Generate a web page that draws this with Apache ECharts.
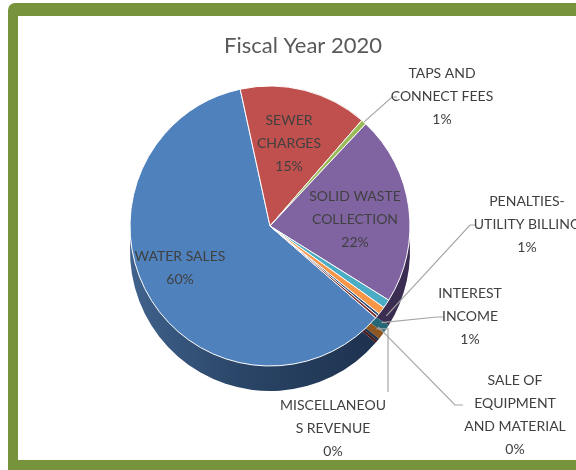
<!DOCTYPE html>
<html>
<head>
<meta charset="utf-8">
<script src="https://cdn.jsdelivr.net/npm/echarts@6/dist/echarts.min.js"></script>
<style>
  html, body { margin: 0; padding: 0; background: #ffffff; }
  #chart { width: 576px; height: 470px; }
</style>
</head>
<body>
<div id="chart"></div>
<script>
// Revenue sources, fiscal year 2020 (share of total, %)
const categories = [
  'WATER SALES',
  'SEWER\nCHARGES',
  'TAPS AND\nCONNECT FEES',
  'SOLID WASTE\nCOLLECTION',
  'PENALTIES-\nUTILITY BILLING',
  'INTEREST\nINCOME',
  'SALE OF\nEQUIPMENT\nAND MATERIAL',
  'MISCELLANEOU\nS REVENUE'
];
const shares = [60.2, 14.8, 0.6, 21.9, 1.0, 0.9, 0.3, 0.3];

// Face and side colours for each slice
const faceColors = ['#4f81bd', '#c0504d', '#9bbb59', '#8064a2', '#4bacc6', '#f79646', '#2c4d75', '#772c2a'];
const sideColors = [
  { type: 'linear', x: 0, y: 0, x2: 1, y2: 0,
    colorStops: [{ offset: 0, color: '#40628c' }, { offset: 0.45, color: '#2a4567' }, { offset: 1, color: '#1e324f' }] },
  '#7a2f2d', '#5d7235', '#3b2d52', '#256677', '#8f5722', '#1b3049', '#4a1b1a'
];

// Where each label sits and how its leader line bends
const labelSpots = [
  { x: 180, y: 268 },
  { x: 289, y: 143 },
  { x: 442, y: 96, elbow: [392, 97], end: [397, 97] },
  { x: 355, y: 219 },
  { x: 527, y: 224, elbow: [470, 225], end: [476, 225] },
  { x: 470, y: 316, elbow: [437, 317], end: [443, 317] },
  { x: 515, y: 415, elbow: [455, 405], end: [463, 405] },
  { x: 333, y: 428, elbow: null, end: [388, 392] }
];

const insideSet = [0, 1, 3];
const CX = 270, CY = 226, R = 140, DEPTH = 25;

const topData = categories.map((name, i) => ({
  name: name,
  value: shares[i],
  itemStyle: { color: faceColors[i] },
  label: { position: insideSet.includes(i) ? 'inside' : 'outside' },
  labelLine: { show: !insideSet.includes(i) }
}));

const sideData = categories.map((name, i) => ({
  name: name,
  value: shares[i],
  itemStyle: { color: sideColors[i] }
}));

const chart = echarts.init(document.getElementById('chart'), null, { renderer: 'canvas' });

chart.setOption({
  animation: false,
  backgroundColor: '#ffffff',
  graphic: [
    { type: 'rect', z: -10, shape: { x: 8, y: 3, width: 600, height: 500, r: [7, 0, 0, 0] },
      style: { fill: '#77933c' }, silent: true },
    { type: 'rect', z: -9, shape: { x: 18, y: 16, width: 600, height: 444 },
      style: { fill: '#ffffff' }, silent: true }
  ],
  title: {
    text: 'Fiscal Year 2020',
    left: 298,
    top: 30,
    textAlign: 'center',
    textStyle: { fontFamily: 'Lato', fontSize: 22, fontWeight: 'normal', color: '#595959' }
  },
  series: [
    {
      // side wall of the disc
      type: 'pie',
      silent: true,
      center: [CX, CY + DEPTH],
      radius: R,
      startAngle: -41,
      clockwise: true,
      percentPrecision: 0,
      label: { show: false },
      labelLine: { show: false },
      itemStyle: { borderWidth: 0 },
      data: sideData,
      z: 1
    },
    {
      // top face
      type: 'pie',
      silent: true,
      center: [CX, CY],
      radius: R,
      startAngle: -41,
      clockwise: true,
      percentPrecision: 0,
      avoidLabelOverlap: false,
      itemStyle: { borderColor: '#ffffff', borderWidth: 1 },
      label: {
        show: true,
        formatter: '{b}\n{d}%',
        fontFamily: 'Lato',
        fontSize: 14,
        lineHeight: 23,
        color: '#404040',
        align: 'center'
      },
      labelLine: {
        lineStyle: { color: '#a6a6a6', width: 1.2 },
        length: 20,
        length2: 10
      },
      labelLayout: function (p) {
        const s = labelSpots[p.dataIndex];
        const out = { x: s.x, y: s.y, align: 'center', verticalAlign: 'middle' };
        if (s.end && p.labelLinePoints) {
          const a = p.labelLinePoints[0];
          const start = [a[0], a[1] + (p.dataIndex >= 4 ? 12 : 0)];
          out.labelLinePoints = s.elbow ? [start, s.elbow, s.end] : [start, [s.end[0], start[1]], s.end];
        }
        return out;
      },
      data: topData,
      z: 2
    }
  ]
});
</script>
</body>
</html>
